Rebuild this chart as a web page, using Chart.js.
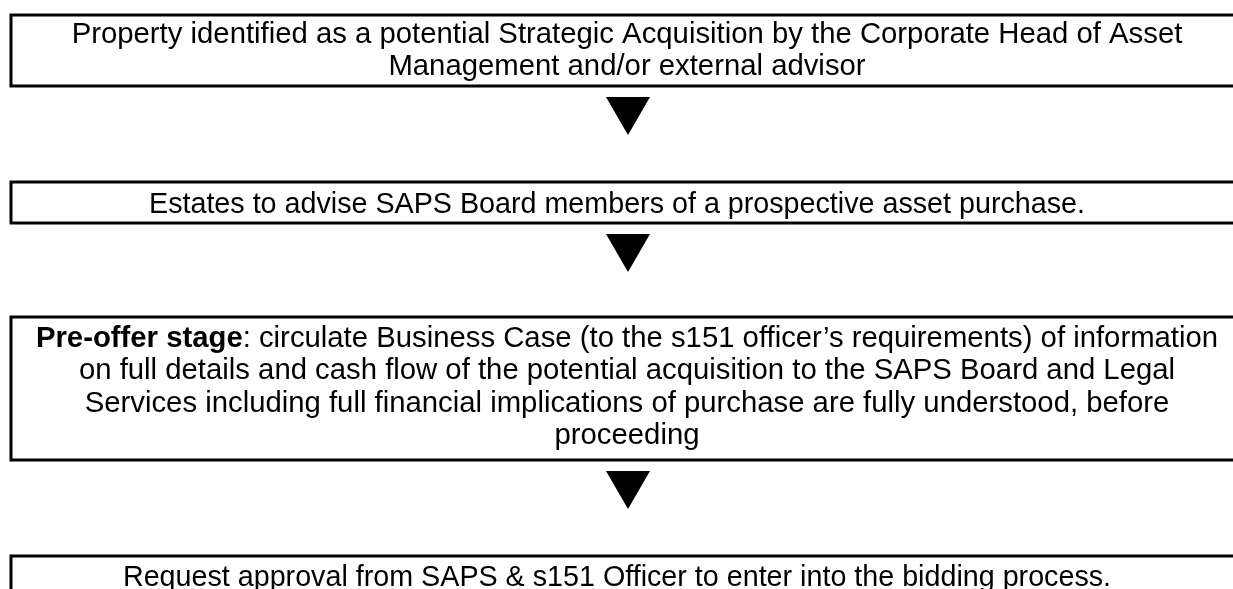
<!DOCTYPE html>
<html>
<head>
<meta charset="utf-8">
<script src="https://cdn.jsdelivr.net/npm/chart.js@4.4.1/dist/chart.umd.min.js"></script>
<style>
  html, body { margin: 0; padding: 0; background: #fff; overflow: hidden; }
</style>
</head>
<body>
<canvas id="flow" width="1233" height="589"></canvas>
<script>
// Flow steps, wrapped as in the original document
const stepLines = [
  ['Property identified as a potential Strategic Acquisition by the Corporate Head of Asset',
   'Management and/or external advisor'],
  ['Estates to advise SAPS Board members of a prospective asset purchase.'],
  ['Pre-offer stage: circulate Business Case (to the s151 officer\u2019s requirements) of information',
   'on full details and cash flow of the potential acquisition to the SAPS Board and Legal',
   'Services including full financial implications of purchase are fully understood, before',
   'proceeding'],
  ['Request approval from SAPS & s151 Officer to enter into the bidding process.']
];
// bold lead-in at the start of each step ('' = none)
const stepBold = ['', '', 'Pre-offer stage', ''];

// page layout (axis units == pixels, y down)
const boxTop = [15, 182, 317, 556];
const boxBottom = [86, 223, 460, 600];
const firstBaseline = [43, 213, 347, 586];
const textCenter = [627, 617, 627, 617];
const fontSizes = [29.3, 28.7, 29.3, 28.7];
const boxLeft = 11;
const boxRight = 1245;
const lineGap = 32.3;
const fontFamily = '"Liberation Sans", Arial, sans-serif';
const arrowCenterX = 628;
const arrowSize = 25.4;

// one down arrow under every box but the last
const arrowX = boxBottom.slice(0, -1).map(() => arrowCenterX);
const arrowY = boxBottom.slice(0, -1).map(b => b + 11 + arrowSize / 2);

const boxesPlugin = {
  id: 'boxes',
  afterDatasetsDraw(chart) {
    const ctx = chart.ctx;
    const xs = chart.scales.x;
    const ys = chart.scales.y;
    ctx.save();
    ctx.strokeStyle = '#000';
    ctx.lineWidth = 3;
    for (let i = 0; i < stepLines.length; i += 1) {
      const x0 = xs.getPixelForValue(boxLeft);
      const x1 = xs.getPixelForValue(boxRight);
      const y0 = ys.getPixelForValue(boxTop[i]);
      const y1 = ys.getPixelForValue(boxBottom[i]);
      ctx.strokeRect(x0, y0, x1 - x0, y1 - y0);

      ctx.fillStyle = '#000';
      ctx.textBaseline = 'alphabetic';
      ctx.textAlign = 'left';
      const cx = xs.getPixelForValue(textCenter[i]);
      const normal = fontSizes[i] + 'px ' + fontFamily;
      const heavy = 'bold ' + normal;
      stepLines[i].forEach((line, k) => {
        const y = ys.getPixelForValue(firstBaseline[i] + k * lineGap);
        let bold = '';
        let rest = line;
        if (k === 0 && stepBold[i] && line.startsWith(stepBold[i])) {
          bold = stepBold[i];
          rest = line.slice(bold.length);
        }
        ctx.font = heavy;
        const wb = bold ? ctx.measureText(bold).width : 0;
        ctx.font = normal;
        const wr = ctx.measureText(rest).width;
        let x = cx - (wb + wr) / 2;
        if (bold) {
          ctx.font = heavy;
          ctx.fillText(bold, x, y);
          x += wb;
          ctx.font = normal;
        }
        ctx.fillText(rest, x, y);
      });
    }
    ctx.restore();
  }
};

new Chart(document.getElementById('flow').getContext('2d'), {
  type: 'scatter',
  data: {
    datasets: [{
      label: 'arrows',
      data: arrowX.map((x, i) => ({ x: x, y: arrowY[i] })),
      pointStyle: 'triangle',
      rotation: 180,
      radius: arrowSize,
      hoverRadius: arrowSize,
      backgroundColor: '#000',
      borderWidth: 0,
      clip: false,
    }],
  },
  options: {
    responsive: false,
    animation: false,
    devicePixelRatio: 1,
    events: [],
    layout: { padding: 0, autoPadding: false },
    plugins: {
      legend: { display: false },
      tooltip: { enabled: false },
    },
    scales: {
      x: { type: 'linear', min: 0, max: 1233, display: false },
      y: { type: 'linear', min: 0, max: 589, reverse: true, display: false },
    },
  },
  plugins: [boxesPlugin],
});
</script>
</body>
</html>
